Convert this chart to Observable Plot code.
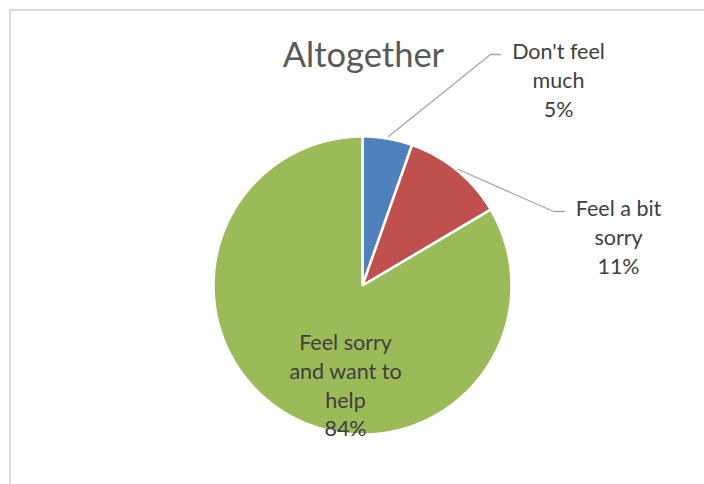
<!DOCTYPE html>
<html>
<head>
<meta charset="utf-8">
<script src="https://cdn.jsdelivr.net/npm/d3@7"></script>
<script src="https://cdn.jsdelivr.net/npm/@observablehq/plot@0.6"></script>
<style>
  html, body { margin: 0; padding: 0; background: #fff; overflow: hidden; }
  #wrap { position: relative; width: 704px; height: 484px; overflow: hidden; }
  #border { position: absolute; left: 9px; top: 9px; width: 720px; height: 500px; border: 2px solid #d9d9d9; box-sizing: border-box; pointer-events: none; }
  #chart { position: absolute; left: 0; top: 0; }
</style>
</head>
<body>
<div id="wrap"><div id="chart"></div><div id="border"></div></div>
<script>
// ---- data ----
const title = "Altogether";
const categories = ["Don't feel much", "Feel a bit sorry", "Feel sorry and want to help"];
const values = [5.4, 11.1, 83.5];
const labelLines = [["Don't feel", "much"], ["Feel a bit", "sorry"], ["Feel sorry", "and want to", "help"]];
const colors = ["#4f81bd", "#c0504d", "#9bbb59"];

// ---- layout (pixel offsets from pie centre) ----
const cx = 362, cy = 285, R = 149;
const labelPos = [[196, -207], [256, -50], [-17, 98.5]];
const leaders = [
  [[26, -149], [128, -231], [138, -231]],
  [[96, -116], [191, -74], [202, -74]],
  null
];

const total = d3.sum(values);
const arcs = d3.pie().sort(null).value(d => d)(values);

function slicePoints(a, i) {
  const pts = [{x: 0, y: 0, k: i}];
  const n = Math.max(4, Math.ceil((a.endAngle - a.startAngle) / 0.01));
  for (let j = 0; j <= n; j++) {
    const t = a.startAngle + (a.endAngle - a.startAngle) * j / n;
    pts.push({x: R * Math.sin(t), y: -R * Math.cos(t), k: i});
  }
  return pts;
}

const marks = [];
arcs.forEach((a, i) => {
  marks.push(Plot.line(slicePoints(a, i), {
    x: "x", y: "y", curve: "linear-closed",
    fill: colors[i], stroke: "white", strokeWidth: 2.5, strokeLinejoin: "miter"
  }));
});
leaders.forEach((l, i) => {
  if (!l) return;
  marks.push(Plot.line(l.map(([x, y]) => ({x, y})), {x: "x", y: "y", stroke: "#a6a6a6", strokeWidth: 1.3}));
});
const labelData = categories.map((c, i) => ({
  x: labelPos[i][0], y: labelPos[i][1],
  text: [...labelLines[i], Math.round(values[i] / total * 100) + "%"].join("\n")
}));
marks.push(Plot.text(labelData, {
  x: "x", y: "y", text: "text", fill: "#404040", fontSize: 21.5, lineHeight: 1.34, lineAnchor: "middle"
}));
marks.push(Plot.text([{x: 1, y: -230, t: title}], {
  x: "x", y: "y", text: "t", fill: "#595959", fontSize: 34.5, lineAnchor: "middle"
}));

const plot = Plot.plot({
  width: 704, height: 484, margin: 0,
  x: {domain: [-cx, 704 - cx], range: [0, 704], axis: null},
  y: {domain: [-cy, 484 - cy], range: [0, 484], axis: null},
  style: {fontFamily: "Lato", background: "white", overflow: "visible"},
  marks
});
document.getElementById("chart").appendChild(plot);
</script>
</body>
</html>
